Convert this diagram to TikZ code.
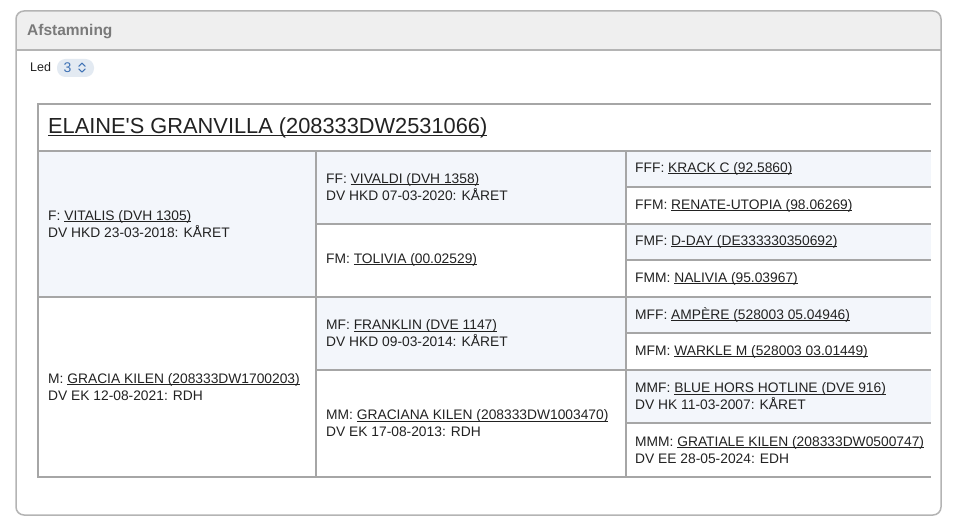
\documentclass[tikz,border=0pt]{standalone}
\usepackage{fontspec}
\setmainfont{Liberation Sans}
\definecolor{panelline}{HTML}{B4B4B4}
\definecolor{headfill}{HTML}{EFEFEF}
\definecolor{headtext}{HTML}{7A7A7A}
\definecolor{gridline}{HTML}{A6A6A6}
\definecolor{cellshade}{HTML}{F3F6FB}
\definecolor{pill}{HTML}{E3EAF2}
\definecolor{pilltext}{HTML}{3F72B5}
\definecolor{bodytext}{HTML}{222222}
\newsavebox\lnkbox
\newcommand\lnk[1]{\sbox\lnkbox{#1}\rlap{\rule[-1.7pt]{\wd\lnkbox}{0.8pt}}\usebox\lnkbox}
\newcommand\biglnk[1]{\sbox\lnkbox{#1}\rlap{\rule[-2.8pt]{\wd\lnkbox}{1.2pt}}\usebox\lnkbox}
\tikzset{
  cell/.style={anchor=west, align=left, inner sep=0pt, text=bodytext,
    font=\fontsize{13.8}{17}\selectfont},
  titletext/.style={anchor=west, inner sep=0pt, text=bodytext,
    font=\fontsize{21.8}{26}\selectfont},
  grid/.style={draw=gridline, line width=1.2pt},
  shadedcell/.style={fill=cellshade},
}
\begin{document}
\begin{tikzpicture}[x=1pt,y=-1pt]
\useasboundingbox (0,0) rectangle (960,526);
\fill[white] (0,0) rectangle (960,526);
% panel
\begin{scope}
\clip[rounded corners=8pt] (16,11) rectangle (941,515);
\fill[headfill] (16,11) rectangle (941,50);
\end{scope}
\draw[panelline, line width=1.5pt, rounded corners=8pt] (16,11) rectangle (941,515);
\draw[panelline, line width=1.5pt] (16,50) -- (941,50);
\node[anchor=west, inner sep=0pt, text=headtext, font=\fontsize{15.5}{18}\selectfont\bfseries] (head) at (27,31.5) {Afstamning};
% Led selector
\node[anchor=west, inner sep=0pt, text=bodytext, font=\fontsize{12.5}{15}\selectfont] (led) at (30,67.5) {Led};
\fill[pill, rounded corners=8.5pt] (57,59) rectangle (94,77);
\node[anchor=west, inner sep=0pt, text=pilltext, font=\fontsize{14}{16}\selectfont] (ledval) at (63.5,68) {3};
\coordinate (chev) at (82,67.5);
\draw[pilltext, line width=1.1pt, line cap=round, line join=round]
  ([shift={(-3.2,-1.2)}]chev) -- ([shift={(0,-4.4)}]chev) -- ([shift={(3.2,-1.2)}]chev);
\draw[pilltext, line width=1.1pt, line cap=round, line join=round]
  ([shift={(-3.2,1.4)}]chev) -- ([shift={(0,4.6)}]chev) -- ([shift={(3.2,1.4)}]chev);
% shaded cells
\path[shadedcell] (38,151) rectangle (316,297);
\path[shadedcell] (316,151) rectangle (626,224);
\path[shadedcell] (316,297) rectangle (626,370);
\path[shadedcell] (626,151) rectangle (931,187);
\path[shadedcell] (626,224) rectangle (931,260);
\path[shadedcell] (626,297) rectangle (931,333);
\path[shadedcell] (626,370) rectangle (931,423);
% grid
\draw[grid] (931,104) -- (38,104) -- (38,477) -- (316,477);
\draw[grid] (38,151) -- (931,151);
\draw[grid] (38,297) -- (931,297);
\draw[grid] (316,151) -- (316,477) -- (626,477);
\draw[grid] (626,151) -- (626,477) -- (931,477);
\draw[grid] (316,224) -- (931,224);
\draw[grid] (316,370) -- (931,370);
\draw[grid] (626,187) -- (931,187);
\draw[grid] (626,260) -- (931,260);
\draw[grid] (626,333) -- (931,333);
\draw[grid] (626,423) -- (931,423);
% texts
\node[titletext] (title) at (48,127.5) {\biglnk{ELAINE\textquotesingle S GRANVILLA (208333DW2531066)}};
\node[cell] (f) at (48,224) {F: \lnk{VITALIS (DVH 1305)}\\DV HKD 23-03-2018: KÅRET};
\node[cell] (m) at (48,387) {M: \lnk{GRACIA KILEN (208333DW1700203)}\\DV EK 12-08-2021: RDH};
\node[cell] (ff) at (326,187) {FF: \lnk{VIVALDI (DVH 1358)}\\DV HKD 07-03-2020: KÅRET};
\node[cell] (fm) at (326,260) {FM: \lnk{TOLIVIA (00.02529)}};
\node[cell] (mf) at (326,333.5) {MF: \lnk{FRANKLIN (DVE 1147)}\\DV HKD 09-03-2014: KÅRET};
\node[cell] (mm) at (326,423.5) {MM: \lnk{GRACIANA KILEN (208333DW1003470)}\\DV EK 17-08-2013: RDH};
\node[cell] (fff) at (635,169) {FFF: \lnk{KRACK C (92.5860)}};
\node[cell] (ffm) at (635,205.5) {FFM: \lnk{RENATE-UTOPIA (98.06269)}};
\node[cell] (fmf) at (635,242) {FMF: \lnk{D-DAY (DE333330350692)}};
\node[cell] (fmm) at (635,278.5) {FMM: \lnk{NALIVIA (95.03967)}};
\node[cell] (mff) at (635,315) {MFF: \lnk{AMPÈRE (528003 05.04946)}};
\node[cell] (mfm) at (635,351.5) {MFM: \lnk{WARKLE M (528003 03.01449)}};
\node[cell] (mmf) at (635,396.5) {MMF: \lnk{BLUE HORS HOTLINE (DVE 916)}\\DV HK 11-03-2007: KÅRET};
\node[cell] (mmm) at (635,450) {MMM: \lnk{GRATIALE KILEN (208333DW0500747)}\\DV EE 28-05-2024: EDH};
\end{tikzpicture}
\end{document}
